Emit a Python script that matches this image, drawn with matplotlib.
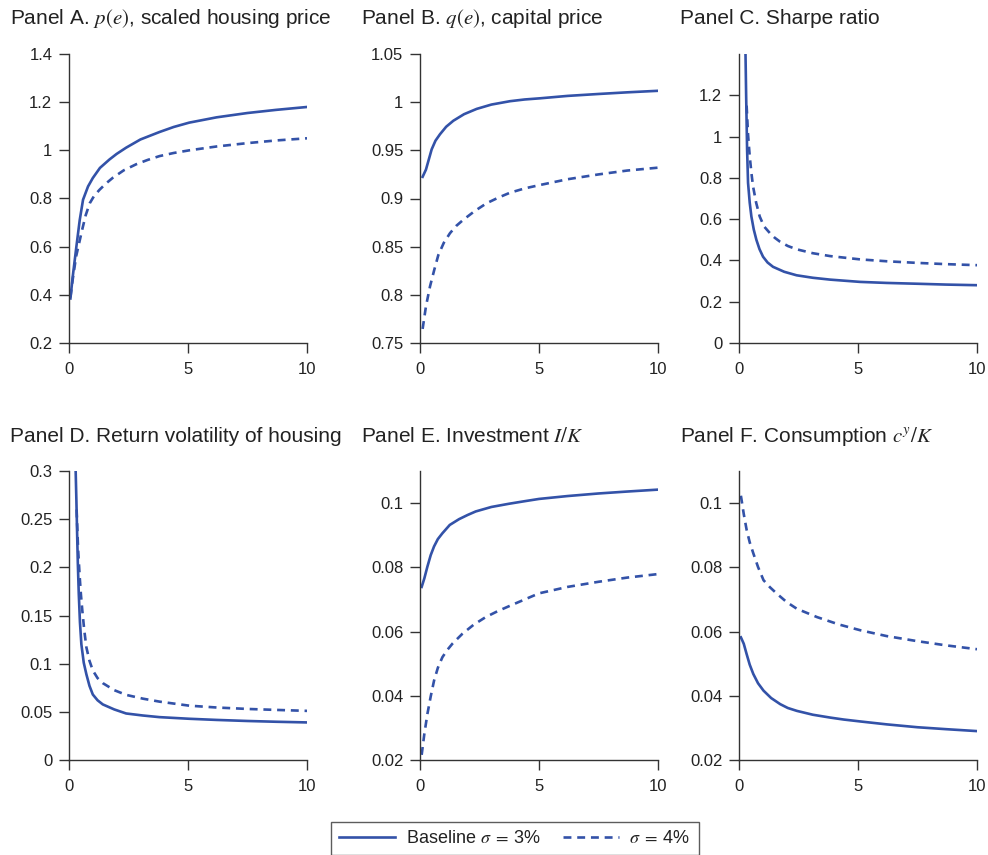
import matplotlib
matplotlib.use("Agg")
import matplotlib.pyplot as plt
from matplotlib.ticker import FuncFormatter

plt.rcParams["font.family"] = ["Liberation Sans", "DejaVu Sans"]
plt.rcParams["mathtext.fontset"] = "stix"

BLUE = "#3352a8"
DARK = "#333333"

# Panel A: p(e)
a_e_solid = [0.06, 0.15, 0.31, 0.45, 0.59, 0.8, 1.0, 1.3, 1.7, 2.0, 2.4, 3.0, 3.8, 4.4, 5.05,
             6.2, 7.5, 8.7, 10]
a_solid = [0.385, 0.47, 0.60, 0.71, 0.795, 0.85, 0.885, 0.927, 0.962, 0.985, 1.011, 1.045,
           1.076, 1.097, 1.115, 1.137, 1.155, 1.168, 1.18]
a_e_dash = [0.06, 0.15, 0.3, 0.55, 0.7, 0.87, 1.05, 1.28, 1.55, 1.84, 2.3, 2.82, 3.3, 3.8,
            4.4, 5.05, 6.2, 7.5, 8.7, 10]
a_dash = [0.39, 0.46, 0.56, 0.669, 0.73, 0.78, 0.81, 0.836, 0.862, 0.886, 0.917, 0.942,
          0.96, 0.976, 0.989, 1.0, 1.016, 1.03, 1.041, 1.05]

# Panel B: q(e)
b_e_solid = [0.11, 0.25, 0.49, 0.65, 0.84, 1.1, 1.4, 1.85, 2.38, 3.0, 3.78, 4.4, 5.04, 6.2,
             7.5, 8.7, 10]
b_solid = [0.9225, 0.93, 0.951, 0.96, 0.9667, 0.9745, 0.9807, 0.9875, 0.993, 0.9975, 1.001,
           1.0028, 1.004, 1.0065, 1.0085, 1.0102, 1.0118]
b_e_dash = [0.11, 0.25, 0.42, 0.6, 0.77, 1.0, 1.26, 1.52, 1.82, 2.3, 2.8, 3.3, 3.78, 4.4,
            5.04, 6.2, 7.5, 8.7, 10]
b_dash = [0.7646, 0.788, 0.8087, 0.826, 0.8413, 0.854, 0.864, 0.8715, 0.8779, 0.887, 0.8951,
          0.901, 0.906, 0.9105, 0.914, 0.92, 0.925, 0.929, 0.932]

# Panel C: Sharpe ratio
c_e_solid = [0.26, 0.3, 0.34, 0.38, 0.45, 0.52, 0.62, 0.73, 0.86, 1.01, 1.2, 1.43, 1.9, 2.42,
             3.1, 3.83, 5.09, 6.2, 7.5, 8.7, 10]
c_solid = [1.5, 1.2, 0.938, 0.776, 0.68, 0.613, 0.55, 0.5, 0.455, 0.418, 0.39, 0.369, 0.345,
           0.328, 0.316, 0.307, 0.296, 0.291, 0.287, 0.283, 0.28]
c_e_dash = [0.32, 0.38, 0.45, 0.52, 0.59, 0.72, 0.87, 1.05, 1.3, 1.5, 1.72, 2.05, 2.42, 3.1,
            3.83, 5.09, 6.2, 7.5, 8.7, 10]
c_dash = [1.15, 1.01, 0.906, 0.825, 0.759, 0.68, 0.613, 0.565, 0.532, 0.51, 0.491, 0.47,
          0.454, 0.435, 0.421, 0.405, 0.396, 0.388, 0.382, 0.377]

# Panel D: return volatility of housing
d_e_solid = [0.27, 0.28, 0.31, 0.335, 0.37, 0.41, 0.46, 0.52, 0.62, 0.73, 0.86, 1.0, 1.2,
             1.42, 1.9, 2.4, 3.1, 3.8, 5.05, 6.2, 7.5, 8.7, 10]
d_solid = [0.32, 0.3, 0.27, 0.242, 0.205, 0.173, 0.143, 0.12, 0.101, 0.089, 0.077, 0.068,
           0.062, 0.0577, 0.0525, 0.0483, 0.0462, 0.0445, 0.0428, 0.0416, 0.0405, 0.0397,
           0.039]
d_e_dash = [0.32, 0.38, 0.45, 0.5, 0.56, 0.64, 0.73, 0.86, 1.0, 1.2, 1.42, 1.9, 2.4, 3.1,
            3.8, 5.05, 6.2, 7.5, 8.7, 10]
d_dash = [0.26, 0.22, 0.19, 0.172, 0.155, 0.135, 0.117, 0.103, 0.093, 0.085, 0.0798, 0.0725,
          0.0676, 0.0637, 0.0606, 0.0564, 0.0545, 0.053, 0.052, 0.051]

# Panel E: investment I/K
e_e_solid = [0.07, 0.18, 0.31, 0.45, 0.59, 0.75, 0.94, 1.25, 1.64, 2.0, 2.34, 3.0, 3.74, 4.4,
             5.0, 6.2, 7.5, 8.7, 10]
e_solid = [0.0739, 0.0765, 0.0802, 0.0838, 0.0865, 0.0888, 0.0906, 0.0932, 0.095, 0.0963,
           0.0974, 0.0988, 0.0998, 0.1006, 0.1013, 0.1022, 0.103, 0.1036, 0.1042]
e_e_dash = [0.07, 0.18, 0.31, 0.45, 0.59, 0.75, 0.94, 1.15, 1.36, 1.78, 2.25, 2.76, 3.25,
            3.74, 4.4, 5.0, 6.2, 7.5, 8.7, 10]
e_dash = [0.0216, 0.028, 0.0343, 0.0398, 0.0447, 0.0487, 0.052, 0.0543, 0.0562, 0.0593,
          0.0621, 0.0645, 0.0663, 0.0679, 0.07, 0.0719, 0.0739, 0.0755, 0.0768, 0.0779]

# Panel F: consumption c^y/K
f_e_solid = [0.08, 0.2, 0.32, 0.45, 0.6, 0.8, 1.03, 1.35, 1.73, 2.05, 2.43, 3.1, 3.84, 4.4,
             5.1, 6.2, 7.5, 8.7, 10]
f_solid = [0.0582, 0.0562, 0.053, 0.0497, 0.0468, 0.0439, 0.0416, 0.0393, 0.0374, 0.0362,
           0.0353, 0.0341, 0.0332, 0.0326, 0.032, 0.0311, 0.0302, 0.0296, 0.029]
f_e_dash = [0.08, 0.2, 0.32, 0.45, 0.6, 0.8, 1.03, 1.3, 1.59, 2.0, 2.43, 3.28, 4.2, 5.1, 6.2,
            7.5, 8.7, 10]
f_dash = [0.1023, 0.0966, 0.0917, 0.0878, 0.0844, 0.0801, 0.076, 0.0738, 0.0718, 0.0692,
          0.0671, 0.0645, 0.0622, 0.0604, 0.0586, 0.057, 0.0557, 0.0545]

panels = [
    ("Panel A. $p(e)$, scaled housing price", a_e_solid, a_solid, a_e_dash, a_dash,
     (0.2, 1.4), [0.2, 0.4, 0.6, 0.8, 1, 1.2, 1.4]),
    ("Panel B. $q(e)$, capital price", b_e_solid, b_solid, b_e_dash, b_dash,
     (0.75, 1.05), [0.75, 0.8, 0.85, 0.9, 0.95, 1, 1.05]),
    ("Panel C. Sharpe ratio", c_e_solid, c_solid, c_e_dash, c_dash,
     (0, 1.4), [0, 0.2, 0.4, 0.6, 0.8, 1, 1.2]),
    ("Panel D. Return volatility of housing", d_e_solid, d_solid, d_e_dash, d_dash,
     (0, 0.3), [0, 0.05, 0.1, 0.15, 0.2, 0.25, 0.3]),
    ("Panel E. Investment $I/K$", e_e_solid, e_solid, e_e_dash, e_dash,
     (0.02, 0.11), [0.02, 0.04, 0.06, 0.08, 0.1]),
    ("Panel F. Consumption $c^y/K$", f_e_solid, f_solid, f_e_dash, f_dash,
     (0.02, 0.11), [0.02, 0.04, 0.06, 0.08, 0.1]),
]

W, H = 988, 855
fig = plt.figure(figsize=(W / 100, H / 100), dpi=100)

lefts = [69, 420, 739]
tops = [54, 471]
title_y = [18, 437]
aw, ah = 238, 289

handles = None
for i, (title, xs, ys, xd, yd, ylim, yticks) in enumerate(panels):
    r, c = divmod(i, 3)
    l = lefts[c]
    t = tops[r]
    ax = fig.add_axes([l / W, 1 - (t + ah) / H, aw / W, ah / H])
    h1, = ax.plot(xs, ys, color=BLUE, lw=1.9, solid_joinstyle="round")
    h2, = ax.plot(xd, yd, color=BLUE, lw=1.9, linestyle=(0, (3.0, 2.2)))
    handles = (h1, h2)
    ax.set_xlim(0, 10)
    ax.set_ylim(*ylim)
    ax.set_xticks([0, 5, 10])
    ax.set_yticks(yticks)
    ax.yaxis.set_major_formatter(FuncFormatter(lambda v, p: "%g" % round(v, 3)))
    for s in ["top", "right"]:
        ax.spines[s].set_visible(False)
    for s in ["left", "bottom"]:
        ax.spines[s].set_color(DARK)
        ax.spines[s].set_linewidth(1.0)
    ax.tick_params(direction="out", length=7, width=1.0, color=DARK,
                   labelsize=12, labelcolor="#222222")
    ax.tick_params(axis="x", pad=7)
    ax.tick_params(axis="y", pad=5)
    fig.text(10 / W if c == 0 else (l - 59) / W, 1 - title_y[r] / H, title,
             fontsize=15, color="#222222", va="center", ha="left")

leg = fig.legend(handles, [r"Baseline $\sigma\;=\;$3%", r"$\sigma\;=\;$4%"],
                 loc="upper center", bbox_to_anchor=(0.521, 1 - 822 / H),
                 ncol=2, frameon=True, fancybox=False, edgecolor=DARK,
                 fontsize=13, handlelength=3.1, columnspacing=1.2,
                 borderpad=0.45, handletextpad=0.6, borderaxespad=0)
leg.get_frame().set_linewidth(1.0)
for txt in leg.get_texts():
    txt.set_color("#222222")

fig.savefig("out.png", dpi=100)
